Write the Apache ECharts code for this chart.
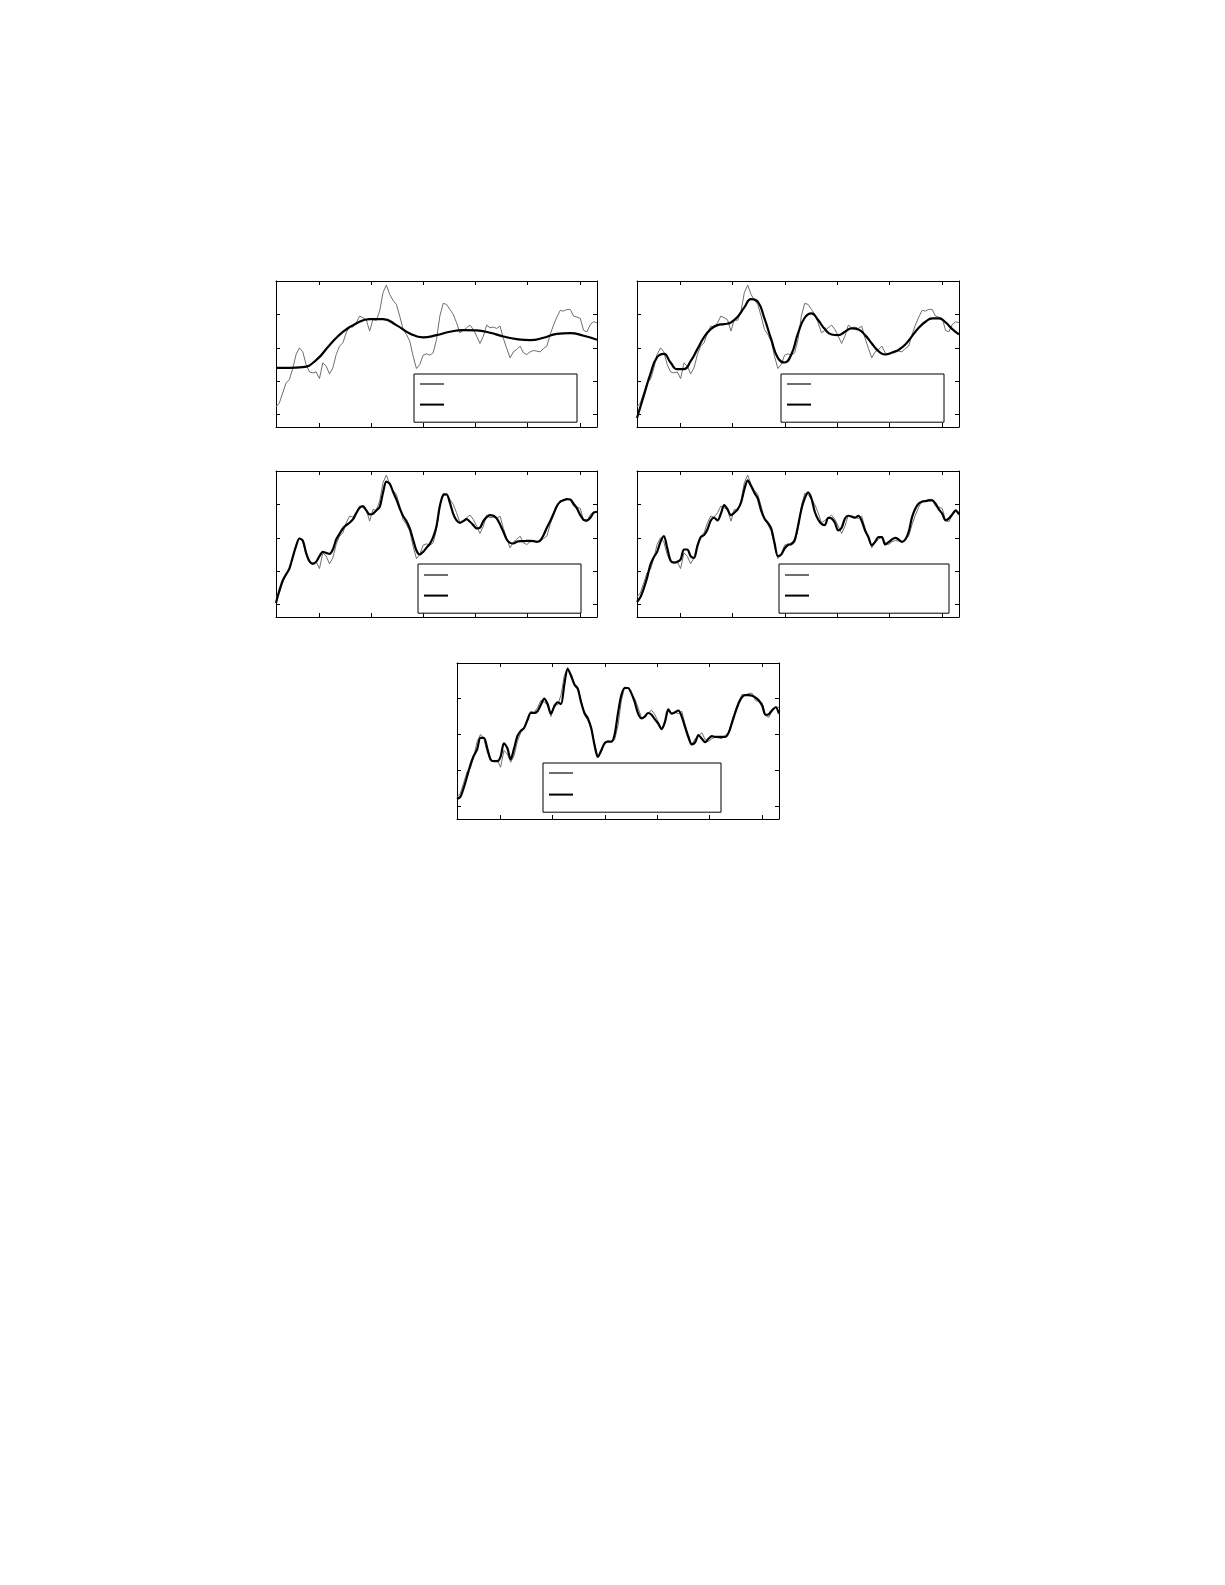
<!DOCTYPE html>
<html><head><meta charset="utf-8">
<script src="https://cdn.jsdelivr.net/npm/echarts@6/dist/echarts.min.js"></script>
<style>html,body{margin:0;padding:0;background:#fff}#c{width:1225px;height:1585px}</style>
</head><body><div id="c"></div>
<script>
// axis ranges and tick positions
const X_MIN = 0.17, X_MAX = 6.33;
const Y_MIN = -2.37, Y_MAX = 2;
const xTicks = [1, 2, 3, 4, 5, 6];
const yTicks = [-2, -1, 0, 1, 2];

// noisy original signal (gray), evenly sampled over the x range
const signal = [-1.77,-1.65,-1.35,-1.05,-0.95,-0.62,-0.20,0.00,-0.12,-0.50,
-0.72,-0.75,-0.72,-0.92,-0.45,-0.55,-0.78,-0.60,-0.20,0.05,
0.15,0.45,0.65,0.62,0.75,0.95,0.90,0.84,0.50,0.85,
0.82,1.10,1.65,1.88,1.60,1.42,1.30,0.95,0.55,0.40,
0.20,-0.25,-0.62,-0.50,-0.22,-0.18,-0.22,-0.15,0.25,0.95,
1.33,1.30,1.15,1.00,0.75,0.45,0.52,0.60,0.68,0.55,
0.35,0.13,0.35,0.68,0.60,0.62,0.58,0.65,0.28,-0.02,
-0.30,-0.12,-0.05,0.05,-0.15,-0.20,-0.12,-0.08,-0.10,-0.12,
-0.02,0.05,0.40,0.68,0.92,1.12,1.10,1.15,1.15,0.95,
0.92,0.88,0.52,0.48,0.70,0.78,0.75];

// approximations (black), each evenly sampled over the x range
const approx1 = [-0.60,-0.60,-0.58,-0.37,0.08,0.48,0.73,0.86,0.86,0.68,0.43,0.31,0.38,0.48,0.53,0.52,0.45,0.34,0.26,0.23,0.30,0.42,0.44,0.36,0.24];

const approx2 = [-2.10,-1.44,-0.78,-0.28,-0.18,-0.44,-0.64,-0.64,-0.40,-0.04,
0.32,0.56,0.68,0.71,0.76,0.93,1.21,1.46,1.38,0.88,
0.26,-0.30,-0.44,-0.20,0.43,0.90,1.03,0.83,0.56,0.40,
0.38,0.48,0.58,0.55,0.38,0.13,-0.10,-0.20,-0.15,-0.06,
0.10,0.35,0.60,0.78,0.88,0.88,0.76,0.56,0.40];

const approx3 = [-1.95,-1.58,-1.28,-1.10,-0.92,-0.58,-0.25,-0.02,-0.08,-0.45,
-0.70,-0.78,-0.72,-0.55,-0.42,-0.45,-0.48,-0.35,-0.05,0.12,
0.28,0.38,0.45,0.55,0.74,0.90,0.95,0.82,0.70,0.72,
0.82,0.92,1.35,1.68,1.62,1.38,1.15,0.88,0.65,0.50,
0.28,-0.05,-0.38,-0.50,-0.42,-0.30,-0.18,0.02,0.35,0.95,
1.28,1.30,1.05,0.72,0.52,0.45,0.50,0.56,0.48,0.38,
0.28,0.30,0.50,0.62,0.68,0.66,0.58,0.40,0.18,-0.05,
-0.15,-0.17,-0.12,-0.10,-0.10,-0.09,-0.09,-0.10,-0.12,-0.08,
0.08,0.30,0.50,0.72,0.95,1.08,1.13,1.16,1.15,1.02,
0.88,0.68,0.54,0.52,0.60,0.75,0.78];

const approx4 = [-1.92,-1.78,-1.52,-1.20,-0.80,-0.58,-0.42,-0.12,0.05,-0.30,
-0.68,-0.74,-0.72,-0.65,-0.35,-0.35,-0.55,-0.60,-0.25,0.02,
0.08,0.25,0.52,0.60,0.52,0.72,0.98,0.85,0.68,0.75,
0.85,1.05,1.45,1.72,1.55,1.35,1.18,0.82,0.58,0.45,
0.28,-0.15,-0.55,-0.50,-0.32,-0.22,-0.18,-0.07,0.35,0.85,
1.18,1.36,1.18,0.78,0.55,0.42,0.38,0.60,0.58,0.45,
0.22,0.30,0.58,0.66,0.64,0.60,0.66,0.50,0.22,0.02,
-0.22,-0.12,0.02,0.02,-0.20,-0.13,-0.05,0.00,-0.05,-0.12,
-0.05,0.18,0.62,0.88,1.03,1.08,1.10,1.12,1.12,1.02,
0.85,0.72,0.52,0.58,0.70,0.82,0.70];

const approx5 = [-1.81,-1.75,-1.50,-1.18,-0.85,-0.60,-0.42,-0.10,-0.10,-0.38,
-0.70,-0.75,-0.75,-0.62,-0.25,-0.38,-0.70,-0.40,-0.05,0.10,
0.18,0.40,0.60,0.60,0.65,0.83,1.00,0.85,0.58,0.78,
0.90,0.85,1.40,1.83,1.65,1.40,1.28,0.90,0.60,0.45,
0.18,-0.30,-0.63,-0.45,-0.25,-0.20,-0.20,0.00,0.60,1.10,
1.30,1.30,1.15,0.90,0.58,0.45,0.50,0.60,0.55,0.42,
0.30,0.15,0.35,0.70,0.58,0.62,0.67,0.50,0.20,-0.08,
-0.28,-0.22,-0.02,-0.12,-0.22,-0.12,-0.05,-0.07,-0.07,-0.07,
-0.07,0.05,0.33,0.62,0.88,1.05,1.10,1.10,1.08,1.03,
0.95,0.80,0.55,0.57,0.68,0.76,0.58];

const approximations = [approx1, approx2, approx3, approx4, approx5];

// layout (pixels)
const panels = [
  {grid:{left:276, top:281, width:321, height:146}, legend:{left:414, top:374, padRight:132, gap:8, padTop:3}, smooth:0.5},
  {grid:{left:637, top:281, width:322, height:146}, legend:{left:781, top:374, padRight:132, gap:8, padTop:3}, smooth:0.5},
  {grid:{left:276, top:471, width:321, height:146}, legend:{left:418, top:564, padRight:132, gap:8, padTop:4}, smooth:0.3},
  {grid:{left:637, top:471, width:322, height:146}, legend:{left:779, top:564, padRight:139, gap:8, padTop:4}, smooth:0.3},
  {grid:{left:457, top:663, width:322, height:156}, legend:{left:543, top:763, padRight:147, gap:9, padTop:3}, smooth:0.3}
];

function toPoints(vals) {
  const n = vals.length;
  return vals.map((v, i) => [X_MIN + (X_MAX - X_MIN) * i / (n - 1), v]);
}

const axisLine = {show:true, onZero:false, lineStyle:{color:'#000', width:1}};
function xAx(i, pos) {
  return {gridIndex:i, type:'value', min:X_MIN, max:X_MAX, position:pos,
    axisLine, axisTick:{show:true, inside:true, length:4, customValues:xTicks, lineStyle:{color:'#000', width:1}},
    axisLabel:{show:false}, splitLine:{show:false}};
}
function yAx(i, pos) {
  return {gridIndex:i, type:'value', min:Y_MIN, max:Y_MAX, position:pos,
    axisLine, axisTick:{show:true, inside:true, length:4, customValues:yTicks, lineStyle:{color:'#000', width:1}},
    axisLabel:{show:false}, splitLine:{show:false}};
}

const option = {animation:false, backgroundColor:'#fff', grid:[], xAxis:[], yAxis:[], series:[], legend:[]};
panels.forEach((p, i) => {
  option.grid.push(Object.assign({containLabel:false}, p.grid));
  option.xAxis.push(xAx(i, 'bottom'), xAx(i, 'top'));
  option.yAxis.push(yAx(i, 'left'), yAx(i, 'right'));
  const gName = 'signal ' + (i + 1), bName = 'approximation ' + (i + 1);
  option.series.push({
    name:gName, type:'line', xAxisIndex:2*i, yAxisIndex:2*i, data:toPoints(signal),
    symbol:'none', lineStyle:{color:'#6e6e6e', width:1}, itemStyle:{color:'#6e6e6e'}, z:2
  });
  option.series.push({
    name:bName, type:'line', xAxisIndex:2*i, yAxisIndex:2*i, data:toPoints(approximations[i]),
    symbol:'none', smooth:p.smooth, lineStyle:{color:'#000', width:2.2}, itemStyle:{color:'#000'}, z:3
  });
  option.legend.push({
    left:p.legend.left, top:p.legend.top, orient:'vertical',
    padding:[p.legend.padTop, p.legend.padRight, 12, 5],
    itemWidth:24, itemHeight:14, itemGap:p.legend.gap,
    borderColor:'#000', borderWidth:1, borderRadius:0, backgroundColor:'#fff',
    formatter:() => '', selectedMode:false,
    itemStyle:{opacity:0, color:'transparent', borderWidth:0},
    data:[gName, bName]
  });
});

const chart = echarts.init(document.getElementById('c'), null, {renderer:'canvas'});
chart.setOption(option);
</script>
</body></html>
